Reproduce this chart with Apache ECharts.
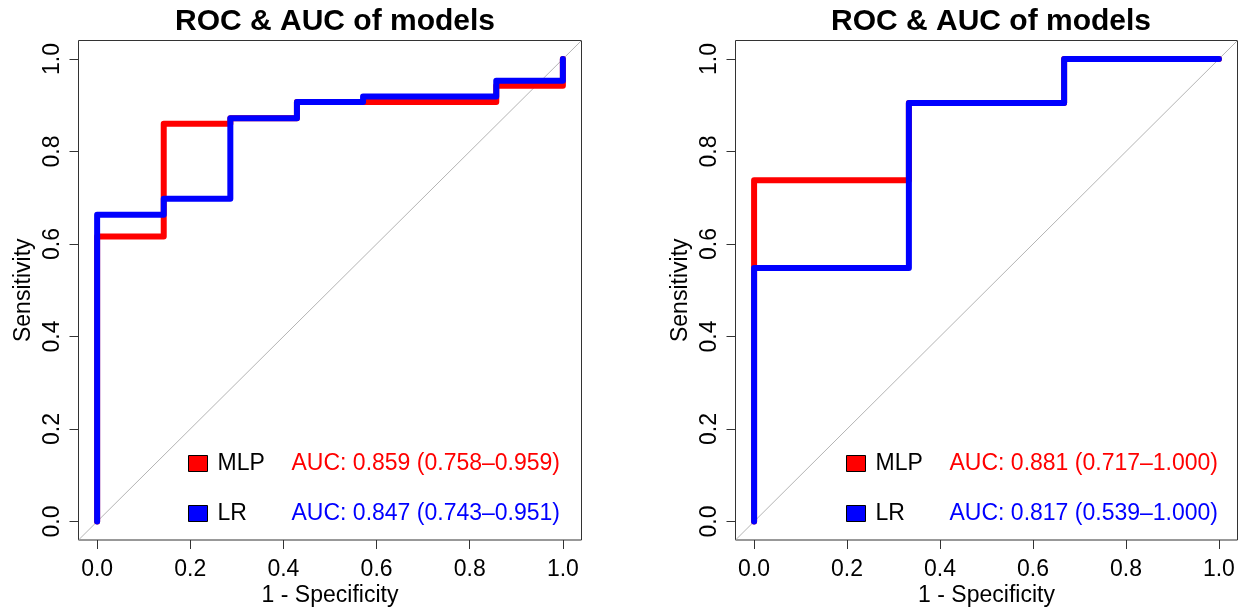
<!DOCTYPE html>
<html>
<head>
<meta charset="utf-8">
<script src="https://cdn.jsdelivr.net/npm/echarts@6/dist/echarts.min.js"></script>
<style>
  html, body { margin: 0; padding: 0; background: #fff; }
  #roc-chart { width: 1248px; height: 607px; }
</style>
</head>
<body>
<div id="roc-chart"></div>
<script>
// ROC 曲线拐点 (1 - Specificity, Sensitivity)
var leftMlpFpr = [0, 0, 0.143, 0.143, 0.286, 0.286, 0.429, 0.429, 0.857, 0.857, 1, 1];
var leftMlpTpr = [0, 0.616, 0.616, 0.860, 0.860, 0.872, 0.872, 0.907, 0.907, 0.942, 0.942, 1];
var leftLrFpr = [0, 0, 0.143, 0.143, 0.286, 0.286, 0.429, 0.429, 0.571, 0.571, 0.857, 0.857, 1, 1];
var leftLrTpr = [0, 0.663, 0.663, 0.698, 0.698, 0.872, 0.872, 0.907, 0.907, 0.919, 0.919, 0.953, 0.953, 1];

var rightMlpFpr = [0, 0, 0.333, 0.333, 0.667, 0.667, 1];
var rightMlpTpr = [0, 0.738, 0.738, 0.905, 0.905, 1, 1];
var rightLrFpr = [0, 0, 0.333, 0.333, 0.667, 0.667, 1];
var rightLrTpr = [0, 0.548, 0.548, 0.905, 0.905, 1, 1];

var tickValues = [0, 0.2, 0.4, 0.6, 0.8, 1.0];
var modelNames = ['MLP', 'LR'];
var leftAucText = ['AUC: 0.859 (0.758\u20130.959)', 'AUC: 0.847 (0.743\u20130.951)'];
var rightAucText = ['AUC: 0.881 (0.717\u20131.000)', 'AUC: 0.817 (0.539\u20131.000)'];
var titleText = 'ROC & AUC of models';

var FONT = "'Liberation Sans', Arial, sans-serif";
var modelColors = ['#ff0000', '#0000ff'];

function pairs(xs, ys) {
  return xs.map(function (x, i) { return [x, ys[i]]; });
}

function makeAxis(gridIndex, isY) {
  return {
    type: 'value',
    gridIndex: gridIndex,
    min: -0.04,
    max: 1.04,
    name: isY ? 'Sensitivity' : '1 - Specificity',
    nameLocation: 'middle',
    nameGap: isY ? 43 : 44,
    nameMoveOverlap: false,
    nameTextStyle: { fontFamily: FONT, fontSize: 23, color: '#000' },
    axisLine: { show: false, onZero: false },
    axisTick: {
      show: true,
      customValues: tickValues,
      length: 9,
      lineStyle: { color: '#333', width: 1 }
    },
    axisLabel: {
      customValues: tickValues,
      fontFamily: FONT,
      fontSize: 23,
      color: '#000',
      rotate: isY ? 90 : 0,
      margin: isY ? 14 : 18,
      formatter: function (v) { return v.toFixed(1); }
    },
    splitLine: { show: false }
  };
}

function rocSeries(name, gridIndex, data, color) {
  return {
    name: name,
    type: 'line',
    xAxisIndex: gridIndex,
    yAxisIndex: gridIndex,
    data: data,
    showSymbol: false,
    color: color,
    lineStyle: { color: color, width: 6, cap: 'round', join: 'round' },
    z: 3
  };
}

function diagSeries(gridIndex) {
  return {
    name: 'diag',
    type: 'line',
    xAxisIndex: gridIndex,
    yAxisIndex: gridIndex,
    data: [[-0.04, -0.04], [1.04, 1.04]],
    showSymbol: false,
    lineStyle: { color: '#b4b4b4', width: 1 },
    z: 2
  };
}

function makeLegend(left, aucText) {
  return {
    data: modelNames,
    left: left,
    top: 452,
    padding: 0,
    orient: 'vertical',
    icon: 'rect',
    itemWidth: 19,
    itemHeight: 16,
    itemGap: 27,
    selectedMode: false,
    itemStyle: { borderColor: '#000', borderWidth: 1 },
    formatter: function (name) {
      var i = modelNames.indexOf(name);
      return '{n|' + name + '}{a' + i + '|' + aucText[i] + '}';
    },
    textStyle: {
      fontFamily: FONT,
      fontSize: 23,
      rich: {
        n: { width: 74, padding: [0, 0, 0, 5], color: '#000', fontSize: 23, fontFamily: FONT, lineHeight: 26 },
        a0: { color: modelColors[0], fontSize: 23, fontFamily: FONT, lineHeight: 26 },
        a1: { color: modelColors[1], fontSize: 23, fontFamily: FONT, lineHeight: 26 }
      }
    }
  };
}

var myChart = echarts.init(document.getElementById('roc-chart'));
var option = {
  animation: false,
  backgroundColor: '#fff',
  title: [
    {
      text: titleText, left: 330, top: 2, textAlign: 'center',
      textStyle: { fontFamily: FONT, fontSize: 30, fontWeight: 'bold', color: '#000' }
    },
    {
      text: titleText, left: 986, top: 2, textAlign: 'center',
      textStyle: { fontFamily: FONT, fontSize: 30, fontWeight: 'bold', color: '#000' }
    }
  ],
  grid: [
    { left: 78.5, top: 40.5, width: 503, height: 499.5, outerBoundsMode: 'none', show: true, borderColor: '#333', borderWidth: 1, backgroundColor: 'transparent' },
    { left: 735.5, top: 40.5, width: 502, height: 499.5, outerBoundsMode: 'none', show: true, borderColor: '#333', borderWidth: 1, backgroundColor: 'transparent' }
  ],
  xAxis: [makeAxis(0, false), makeAxis(1, false)],
  yAxis: [makeAxis(0, true), makeAxis(1, true)],
  legend: [makeLegend(188, leftAucText), makeLegend(846, rightAucText)],
  series: [
    diagSeries(0),
    rocSeries('MLP', 0, pairs(leftMlpFpr, leftMlpTpr), modelColors[0]),
    rocSeries('LR', 0, pairs(leftLrFpr, leftLrTpr), modelColors[1]),
    diagSeries(1),
    rocSeries('MLP', 1, pairs(rightMlpFpr, rightMlpTpr), modelColors[0]),
    rocSeries('LR', 1, pairs(rightLrFpr, rightLrTpr), modelColors[1])
  ]
};
myChart.setOption(option);
</script>
</body>
</html>
